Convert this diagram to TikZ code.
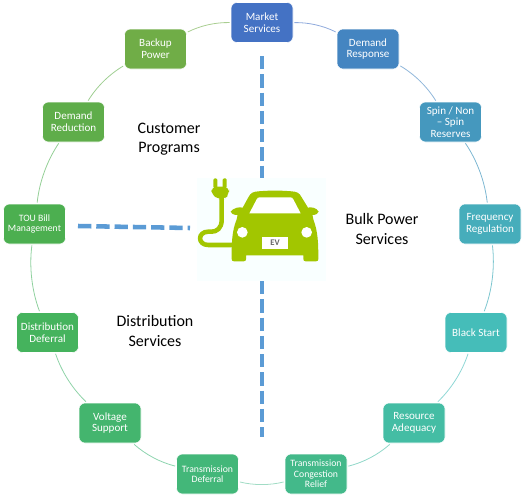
\documentclass[tikz,border=0pt]{standalone}
\usepackage{fontspec}
\setmainfont{Carlito}
\usetikzlibrary{positioning}
\definecolor{bleuMarket}{RGB}{68,114,196}
\definecolor{bleuResponse}{RGB}{68,133,193}
\definecolor{bleuSpin}{RGB}{69,152,190}
\definecolor{tealFreq}{RGB}{70,173,187}
\definecolor{tealBlack}{RGB}{69,189,185}
\definecolor{tealAdequacy}{RGB}{68,189,164}
\definecolor{vertCongestion}{RGB}{67,185,138}
\definecolor{vertDeferral}{RGB}{67,183,121}
\definecolor{vertVoltage}{RGB}{68,181,110}
\definecolor{vertDistrib}{RGB}{69,179,93}
\definecolor{vertTou}{RGB}{76,175,80}
\definecolor{vertReduction}{RGB}{95,173,74}
\definecolor{vertBackup}{RGB}{112,173,71}
\definecolor{vertCar}{RGB}{162,198,0}
\definecolor{bleuDash}{RGB}{91,155,213}
\definecolor{fondCar}{RGB}{249,255,255}

\begin{document}
\begin{tikzpicture}[x=0.75pt,y=-0.75pt,
  service/.style={rectangle,rounded corners=4.5pt,minimum width=46.5pt,minimum height=30pt,
                  inner sep=0pt,align=center,text=white,draw=white,line width=0.4pt,outer sep=1pt,
                  font=\fontsize{8.3}{8.8}\selectfont},
  petit/.style={font=\fontsize{7.3}{7.9}\selectfont},
  titre/.style={align=center,text=black,font=\fontsize{12}{14.6}\selectfont},
  arc/.style={line width=0.6pt,bend left=13.85,looseness=0.85},
  tiret/.style={bleuDash,line width=3.4pt,dash pattern=on 10pt off 3.7pt}]

  \useasboundingbox (0,0) rectangle (523,496);

  \node[service,fill=bleuMarket] (market) at (262,22.5) {Market\\Services};
  \node[service,fill=bleuResponse] (response) at (368,49) {Demand\\Response};
  \node[service,fill=bleuSpin] (spin) at (450.5,122) {Spin / Non\\– Spin\\Reserves};
  \node[service,fill=tealFreq] (freq) at (490,224) {Frequency\\Regulation};
  \node[service,fill=tealBlack] (black) at (476,332.5) {Black Start};
  \node[service,fill=tealAdequacy] (adequacy) at (414,423) {Resource\\Adequacy};
  \node[service,petit,fill=vertCongestion] (congestion) at (316,474) {Transmission\\Congestion\\Relief};
  \node[service,petit,fill=vertDeferral] (deferral) at (207.5,474) {Transmission\\Deferral};
  \node[service,fill=vertVoltage] (voltage) at (110,423) {Voltage\\Support};
  \node[service,fill=vertDistrib] (distrib) at (47.5,332.5) {Distribution\\Deferral};
  \node[service,petit,fill=vertTou] (tou) at (34.5,224) {TOU Bill\\Management};
  \node[service,fill=vertReduction] (reduction) at (73.5,122) {Demand\\Reduction};
  \node[service,fill=vertBackup] (backup) at (155.5,49) {Backup\\Power};

  \draw[arc,bleuMarket!60] (market) to (response);
  \draw[arc,bleuResponse!60] (response) to (spin);
  \draw[arc,bleuSpin!70] (spin) to (freq);
  \draw[arc,tealFreq!70] (freq) to (black);
  \draw[arc,tealBlack!60] (black) to (adequacy);
  \draw[arc,tealAdequacy!60] (adequacy) to (congestion);
  \draw[arc,vertCongestion!50] (congestion) to (deferral);
  \draw[arc,vertDeferral!60] (deferral) to (voltage);
  \draw[arc,vertVoltage!60] (voltage) to (distrib);
  \draw[arc,vertDistrib!60] (distrib) to (tou);
  \draw[arc,vertTou!60] (tou) to (reduction);
  \draw[arc,vertReduction!60] (reduction) to (backup);
  \draw[arc,vertBackup!60] (backup) to (market);

  % Car icon
  \fill[fondCar] (197,178) rectangle (326,281);
  \begin{scope}[shift={(180,160)},x=0.25pt,y=-0.25pt]
    \draw[vertCar,line width=3.4pt] (125,110) -- (125,180)
      .. controls (125,205) and (110,215) .. (95,215) -- (85,215)
      .. controls (52,215) and (52,255) .. (85,255) -- (160,255);
    \fill[vertCar,rounded corners=1pt] (100,55) rectangle (112,85);
    \fill[vertCar,rounded corners=1pt] (128,55) rectangle (140,85);
    \fill[vertCar,rounded corners=4pt] (94,80) -- (147,80) -- (147,104)
      -- (132,118) -- (118,118) -- (94,104) -- cycle;
    \fill[vertCar] (155,297)
      .. controls (155,250) and (155,215) .. (170,178)
      .. controls (172,170) and (172,168) .. (172,165)
      .. controls (160,165) and (152,160) .. (152,155)
      .. controls (160,143) and (180,140) .. (188,143)
      -- (205,112)
      .. controls (212,98) and (220,95) .. (235,94)
      .. controls (270,91) and (300,91) .. (335,94)
      .. controls (350,95) and (358,98) .. (365,112)
      -- (384,143)
      .. controls (392,140) and (410,143) .. (416,155)
      .. controls (414,160) and (408,165) .. (398,165)
      .. controls (398,168) and (398,170) .. (400,178)
      .. controls (414,215) and (415,250) .. (415,297)
      .. controls (415,301) and (413,304) .. (408,304)
      -- (377,304)
      .. controls (372,304) and (370,301) .. (370,297)
      -- (370,286) -- (198,286) -- (198,297)
      .. controls (198,301) and (196,304) .. (191,304)
      -- (162,304)
      .. controls (157,304) and (155,301) .. (155,297) -- cycle;
    \fill[white] (208,160) -- (230,118)
      .. controls (232,113) and (235,112) .. (240,112)
      -- (330,112)
      .. controls (335,112) and (338,113) .. (340,118)
      -- (362,160) -- cycle;
    \fill[white] (187,217) circle (16);
    \fill[white] (380,217) circle (16);
    \node[fill=white,minimum width=20pt,minimum height=8.7pt,inner sep=0pt,text=black!60,
          font=\fontsize{6.5}{6.5}\selectfont\bfseries] (plaque) at (285,249.5) {EV};
  \end{scope}

  % Dashed links
  \coordinate (hautA) at (262,56);
  \coordinate (hautB) at (262,178);
  \coordinate (basA) at (262,281);
  \coordinate (basB) at (262,437);
  \coordinate (gaucheA) at (78,226);
  \coordinate (gaucheB) at (190,228);
  \draw[tiret] (hautA) -- (hautB);
  \draw[tiret] (basA) -- (basB);
  \draw[tiret] (gaucheA) -- (gaucheB);

  \node[titre] (customer) at (169,139) {Customer\\Programs};
  \node[titre] (bulk) at (382,229) {Bulk Power\\Services};
  \node[titre] (distribution) at (155,331) {Distribution\\Services};
\end{tikzpicture}
\end{document}
